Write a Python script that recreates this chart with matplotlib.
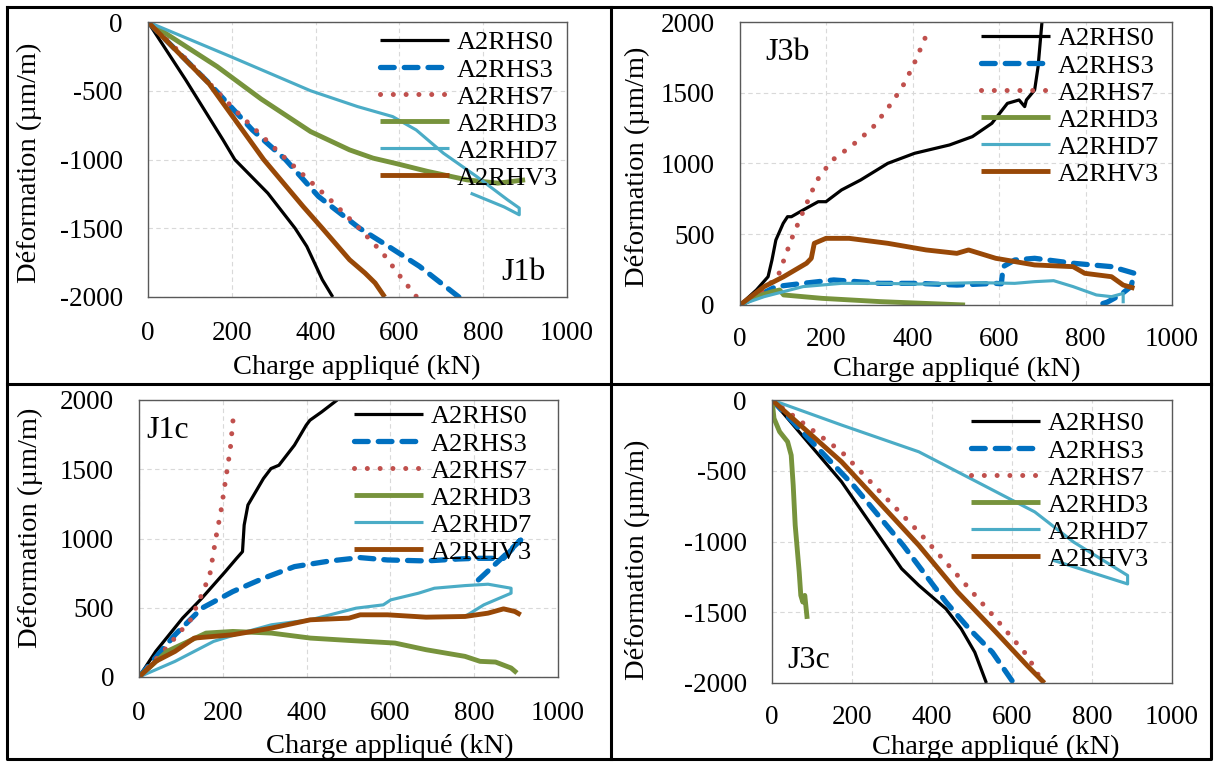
import matplotlib
matplotlib.use("Agg")
import matplotlib.pyplot as plt
from matplotlib.lines import Line2D

plt.rcParams['font.family'] = ['Liberation Serif', 'DejaVu Serif']
plt.rcParams['axes.unicode_minus'] = False

# ---- data ----
x_ticks = [0, 200, 400, 600, 800, 1000]
neg_ticks = [0, -500, -1000, -1500, -2000]
pos_ticks = [0, 500, 1000, 1500, 2000]
series_names = ['A2RHS0', 'A2RHS3', 'A2RHS7', 'A2RHD3', 'A2RHD7', 'A2RHV3']

# J1b
j1b_s0_x = [0, 90, 179, 207, 286, 351, 379, 416, 441]
j1b_s0_y = [0, -421, -857, -1000, -1245, -1500, -1632, -1874, -2000]
j1b_s3_x = [0, 146, 249, 328, 407, 505, 574, 648, 742]
j1b_s3_y = [0, -446, -785, -1000, -1269, -1500, -1632, -1777, -2000]
j1b_s7_x = [0, 62, 211, 323, 435, 500, 560, 602, 640]
j1b_s7_y = [0, -179, -651, -978, -1293, -1487, -1680, -1850, -1995]
j1b_d3_x = [0, 165, 270, 388, 481, 537, 593, 668, 761, 835, 900]
j1b_d3_y = [0, -324, -560, -797, -930, -990, -1030, -1087, -1148, -1172, -1148]
j1b_d7_x = [0, 200, 388, 500, 584, 640, 705, 784, 858, 886, 886, 850, 770]
j1b_d7_y = [0, -255, -500, -615, -688, -785, -954, -1123, -1293, -1353, -1402, -1345, -1245]
j1b_v3_x = [0, 146, 276, 370, 416, 481, 518, 542, 565]
j1b_v3_y = [0, -450, -1000, -1341, -1500, -1729, -1826, -1898, -2000]

# J3b
j3b_s0_x = [0, 38, 65, 74, 83, 100, 110, 119, 146, 181, 199, 235, 279, 342, 404, 485, 538, 583, 619, 646, 659, 663, 682, 690, 699]
j3b_s0_y = [0, 106, 200, 318, 459, 577, 624, 624, 671, 730, 730, 813, 883, 1001, 1072, 1131, 1190, 1284, 1425, 1449, 1402, 1449, 1519, 1684, 2000]
j3b_s3_x = [0, 83, 146, 217, 324, 413, 502, 592, 605, 609, 636, 682, 771, 860, 913, 905, 880, 850, 829]
j3b_s3_y = [0, 130, 153, 177, 153, 153, 141, 153, 150, 271, 318, 330, 295, 271, 224, 130, 70, 20, 0]
j3b_s7_x = [0, 50, 89, 119, 141, 177, 212, 259, 306, 342, 375, 401, 425, 436]
j3b_s7_y = [0, 90, 212, 464, 624, 876, 1020, 1126, 1249, 1390, 1536, 1691, 1861, 1943]
j3b_d3_x = [0, 38, 74, 92, 101, 190, 324, 521]
j3b_d3_y = [0, 59, 94, 106, 71, 47, 24, 0]
j3b_d7_x = [0, 56, 146, 235, 324, 413, 547, 636, 682, 726, 771, 825, 860, 887, 887]
j3b_d7_y = [0, 59, 130, 153, 153, 148, 158, 153, 165, 172, 130, 71, 59, 82, 12]
j3b_v3_x = [0, 56, 101, 154, 165, 172, 199, 253, 342, 431, 502, 529, 592, 682, 771, 798, 860, 887, 913]
j3b_v3_y = [0, 130, 200, 295, 330, 436, 471, 471, 436, 389, 365, 389, 330, 283, 271, 224, 200, 141, 118]

# J1c
j1c_s0_x = [0, 40, 104, 150, 206, 233, 247, 251, 260, 297, 315, 334, 371, 399, 408, 436, 473]
j1c_s0_y = [0, 185, 425, 569, 761, 857, 905, 1097, 1242, 1433, 1505, 1529, 1674, 1818, 1854, 1914, 2000]
j1c_s3_x = [0, 86, 150, 224, 297, 371, 456, 528, 593, 685, 762, 805, 870, 911, 870, 810]
j1c_s3_y = [0, 305, 497, 617, 713, 797, 838, 862, 845, 838, 852, 857, 857, 989, 870, 701]
j1c_s7_x = [0, 58, 123, 146, 169, 184, 196, 206, 218, 224, 227]
j1c_s7_y = [0, 185, 413, 569, 737, 1013, 1205, 1409, 1650, 1842, 1938]
j1c_d3_x = [0, 67, 160, 224, 316, 409, 501, 611, 685, 778, 814, 851, 888, 902]
j1c_d3_y = [0, 185, 317, 329, 317, 281, 264, 245, 197, 149, 113, 108, 65, 29]
j1c_d7_x = [0, 86, 178, 224, 316, 409, 456, 518, 583, 601, 667, 705, 778, 833, 888, 888, 823, 778]
j1c_d7_y = [0, 113, 257, 300, 377, 413, 449, 497, 521, 557, 605, 641, 660, 670, 641, 605, 521, 437]
j1c_v3_x = [0, 40, 86, 132, 224, 316, 409, 501, 528, 593, 685, 778, 833, 870, 897, 911]
j1c_v3_y = [0, 113, 185, 281, 305, 353, 413, 425, 449, 449, 432, 437, 461, 492, 473, 449]

# J3c
j3c_s0_x = [0, 174, 324, 367, 435, 473, 507, 536]
j3c_s0_y = [0, -578, -1192, -1310, -1476, -1617, -1783, -2000]
j3c_s3_x = [0, 203, 328, 435, 493, 551, 604]
j3c_s3_y = [0, -602, -1027, -1428, -1617, -1783, -2000]
j3c_s7_x = [0, 174, 367, 464, 560, 638, 667, 676]
j3c_s7_y = [0, -366, -933, -1240, -1547, -1806, -1948, -2000]
j3c_d3_x = [0, 5, 19, 39, 48, 53, 58, 68, 72, 77, 82, 88]
j3c_d3_y = [0, -130, -224, -295, -390, -602, -885, -1216, -1381, -1428, -1381, -1547]
j3c_d7_x = [0, 174, 367, 512, 657, 754, 889, 889, 700]
j3c_d7_y = [0, -177, -366, -578, -791, -1004, -1240, -1300, -1130]
j3c_v3_x = [0, 174, 367, 464, 560, 638, 681]
j3c_v3_y = [0, -437, -1027, -1357, -1641, -1877, -2000]

# ---- styles ----
styles = [
    dict(color='#000000', lw=2.3, ls='-'),
    dict(color='#0070C0', lw=3.8, ls=(0, (2.6, 1.9)), dash_capstyle='round'),
    dict(color='#C0504D', lw=3.6, ls=(0, (0.01, 2.55)), dash_capstyle='round'),
    dict(color='#77933C', lw=3.5, ls='-'),
    dict(color='#4BACC6', lw=2.25, ls='-'),
    dict(color='#984807', lw=3.5, ls='-'),
]

W, H = 1215, 763
fig = plt.figure(figsize=(W / 100, H / 100), dpi=100)


def box(l, t, r, b):
    return [l / W, 1 - b / H, (r - l) / W, (b - t) / H]


def pt(x, y):
    return (x / W, 1 - y / H)


panels = [
    dict(rect=box(148, 22, 567, 297), ylim=(-2000, 0), yt=neg_ticks, tag='J1b', tagpos=(524, 272),
         data=[(j1b_s0_x, j1b_s0_y), (j1b_s3_x, j1b_s3_y), (j1b_s7_x, j1b_s7_y),
               (j1b_d3_x, j1b_d3_y), (j1b_d7_x, j1b_d7_y), (j1b_v3_x, j1b_v3_y)],
         leg=(380, 39), xl=(357, 367), yl=(29, 163), xpad=17),
    dict(rect=box(740, 22, 1172, 305), ylim=(0, 2000), yt=pos_ticks, tag='J3b', tagpos=(788, 52),
         data=[(j3b_s0_x, j3b_s0_y), (j3b_s3_x, j3b_s3_y), (j3b_s7_x, j3b_s7_y),
               (j3b_d3_x, j3b_d3_y), (j3b_d7_x, j3b_d7_y), (j3b_v3_x, j3b_v3_y)],
         leg=(981, 35), xl=(957, 369), yl=(637, 167), xpad=16),
    dict(rect=box(139, 400, 558, 677), ylim=(0, 2000), yt=pos_ticks, tag='J1c', tagpos=(168, 430),
         data=[(j1c_s0_x, j1c_s0_y), (j1c_s3_x, j1c_s3_y), (j1c_s7_x, j1c_s7_y),
               (j1c_d3_x, j1c_d3_y), (j1c_d7_x, j1c_d7_y), (j1c_v3_x, j1c_v3_y)],
         leg=(354, 413), xl=(390, 746), yl=(30, 528), xpad=17),
    dict(rect=box(772, 400, 1172, 683), ylim=(-2000, 0), yt=neg_ticks, tag='J3c', tagpos=(809, 660),
         data=[(j3c_s0_x, j3c_s0_y), (j3c_s3_x, j3c_s3_y), (j3c_s7_x, j3c_s7_y),
               (j3c_d3_x, j3c_d3_y), (j3c_d7_x, j3c_d7_y), (j3c_v3_x, j3c_v3_y)],
         leg=(971, 420), xl=(996, 747), yl=(637, 560), xpad=16),
]

for p in panels:
    ax = fig.add_axes(p['rect'])
    for (xs, ys), st, name in zip(p['data'], styles, series_names):
        ax.plot(xs, ys, label=name, solid_capstyle='butt', **st)
    ax.set_xlim(0, 1000)
    ax.set_ylim(*p['ylim'])
    ax.set_xticks(x_ticks)
    ax.set_yticks(p['yt'])
    ax.tick_params(length=0, labelsize=19.5)
    ax.tick_params(axis='x', pad=p['xpad'])
    ax.tick_params(axis='y', pad=18)
    ax.grid(True, color='#D9D9D9', linestyle=(0, (4, 3)), linewidth=0.8)
    ax.set_axisbelow(True)
    for s in ax.spines.values():
        s.set_color('#595959')
        s.set_linewidth(1.0)

    lx, ly = p['leg']
    ax.legend(loc='upper left', bbox_to_anchor=pt(lx, ly - 8), bbox_transform=fig.transFigure,
              frameon=False, fontsize=19, borderpad=0, borderaxespad=0,
              handlelength=2.6, handletextpad=0.3, labelspacing=0.135)

    fig.text(*pt(*p['tagpos']), p['tag'], fontsize=23, ha='center', va='center')
    fig.text(*pt(*p['xl']), 'Charge appliqué (kN)', fontsize=20.5, ha='center', va='center')
    fig.text(*pt(*p['yl']), 'Déformation (µm/m)', fontsize=20.5, ha='center', va='center', rotation=90)

# panel frame lines
frame_kw = dict(color='black', linewidth=2.2, transform=fig.transFigure)
fig.add_artist(Line2D([7 / W, 1211 / W, 1211 / W, 7 / W, 7 / W],
                      [1 - 7 / H, 1 - 7 / H, 1 - 759 / H, 1 - 759 / H, 1 - 7 / H], **frame_kw))
fig.add_artist(Line2D([611 / W, 611 / W], [1 - 7 / H, 1 - 759 / H], **frame_kw))
fig.add_artist(Line2D([7 / W, 1211 / W], [1 - 384 / H, 1 - 384 / H], **frame_kw))

fig.savefig('out.png', dpi=100)
